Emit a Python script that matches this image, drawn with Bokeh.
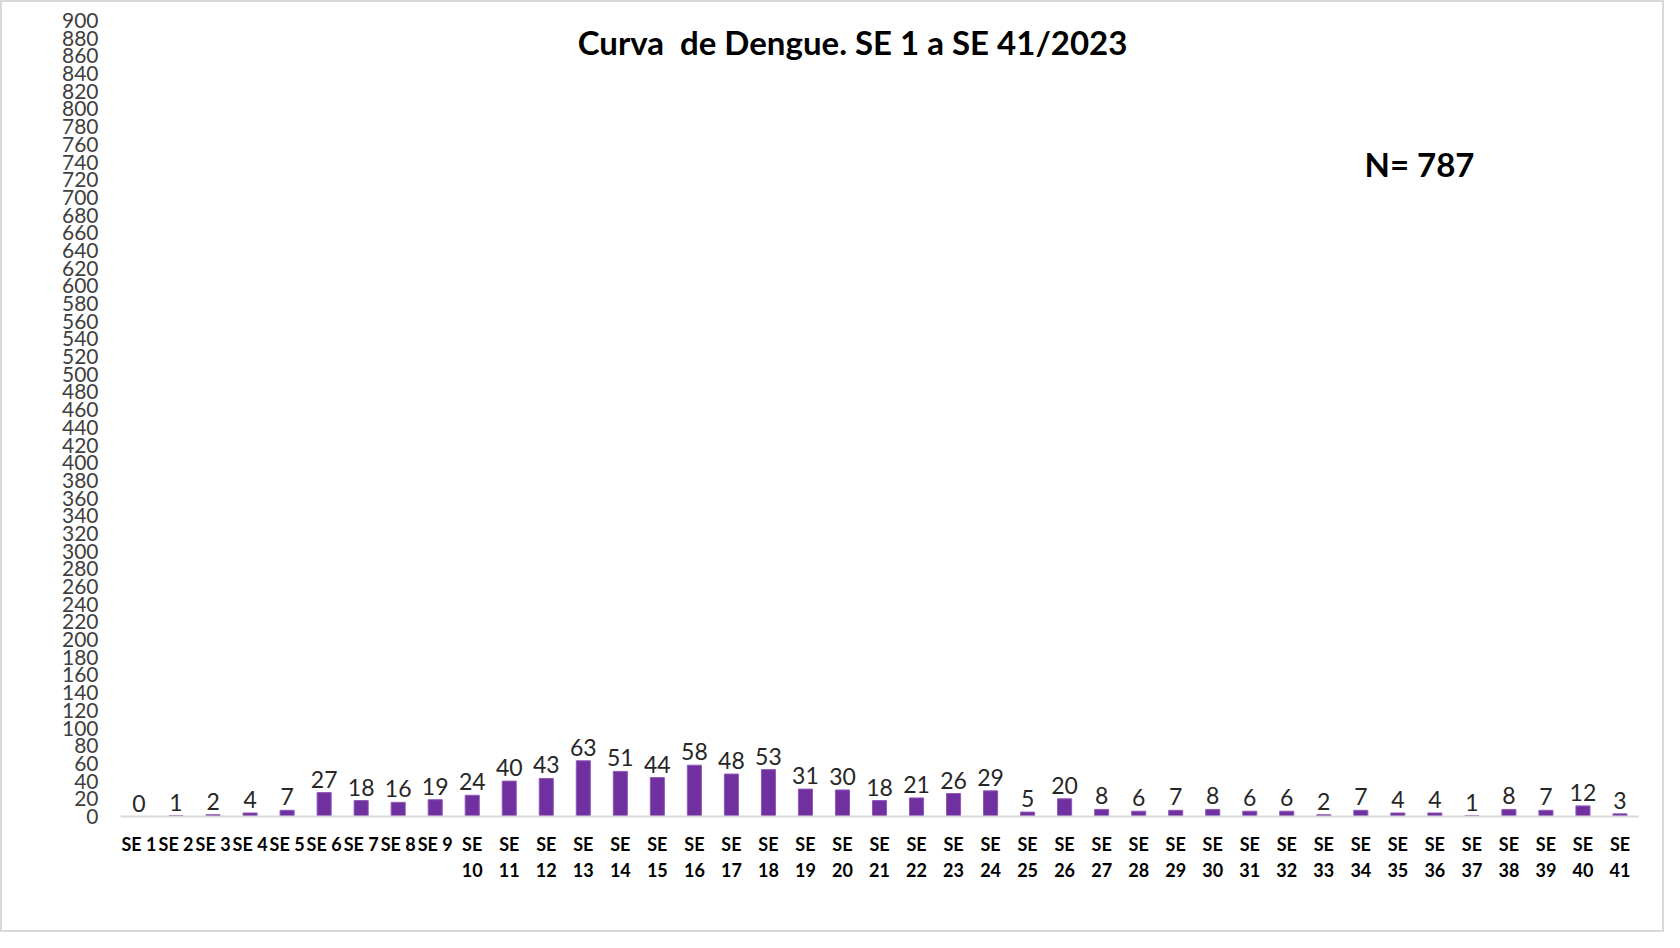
from bokeh.plotting import figure
from bokeh.models import ColumnDataSource, Label, FixedTicker
from bokeh.embed import file_html
from bokeh.resources import INLINE

weeks = [f"SE {i}" for i in range(1, 42)]
cases = [0, 1, 2, 4, 7, 27, 18, 16, 19, 24, 40, 43, 63, 51, 44, 58, 48, 53, 31, 30,
         18, 21, 26, 29, 5, 20, 8, 6, 7, 8, 6, 6, 2, 7, 4, 4, 1, 8, 7, 12, 3]
y_ticks = list(range(0, 901, 20))
title_text = "Curva \u00a0de Dengue. SE 1 a SE 41/2023"
total_text = f"N= {sum(cases)}"

FONT = "Lato"

# tick labels wrap onto two lines when they are too wide for a category
factors = [w if len(w) <= 4 else w.replace(" ", "\n") for w in weeks]

src = ColumnDataSource(dict(week=factors, cases=cases, lab=[str(c) for c in cases]))

p = figure(x_range=factors, y_range=(0, 900), width=1664, height=932,
           output_backend="svg", toolbar_location=None,
           min_border_left=118, min_border_right=28, min_border_top=18,
           min_border_bottom=118)
p.styles = {"border": "2px solid #d9d9d9"}
p.outline_line_color = None
p.xgrid.grid_line_color = None
p.ygrid.grid_line_color = None

p.vbar(x="week", top="cases", width=0.38, source=src,
       fill_color="#7030A0", line_color="#8e5bb8", line_width=1)
p.text(x="week", y="cases", text="lab", source=src, text_align="center",
       text_baseline="bottom", y_offset=-5, text_font_size="23px",
       text_color="#262626", text_font={"value": FONT})

p.yaxis.ticker = FixedTicker(ticks=y_ticks)
p.yaxis.axis_line_color = None
p.yaxis.major_tick_line_color = None
p.yaxis.minor_tick_line_color = None
p.yaxis.major_label_standoff = 16
p.yaxis.major_label_text_font = FONT
p.yaxis.major_label_text_font_size = "21px"
p.yaxis.major_label_text_color = "#404040"

p.xaxis.axis_line_color = "#d9d9d9"
p.xaxis.axis_line_width = 2
p.xaxis.major_tick_line_color = None
p.xaxis.major_label_standoff = 10
p.xaxis.major_label_text_font = FONT
p.xaxis.major_label_text_font_style = "bold"
p.xaxis.major_label_text_font_size = "18px"
p.xaxis.major_label_text_color = "#000000"
p.xaxis.major_label_text_line_height = 1.2

p.add_layout(Label(x=732, y=775, x_units="screen", y_units="screen",
                   text=title_text, text_align="center", text_baseline="middle",
                   text_font=FONT, text_font_style="bold", text_font_size="33px",
                   text_color="#000000"))
p.add_layout(Label(x=1299, y=653, x_units="screen", y_units="screen",
                   text=total_text, text_align="center", text_baseline="middle",
                   text_font=FONT, text_font_style="bold", text_font_size="33px",
                   text_color="#000000"))

open("out.html", "w").write(file_html(p, INLINE))
